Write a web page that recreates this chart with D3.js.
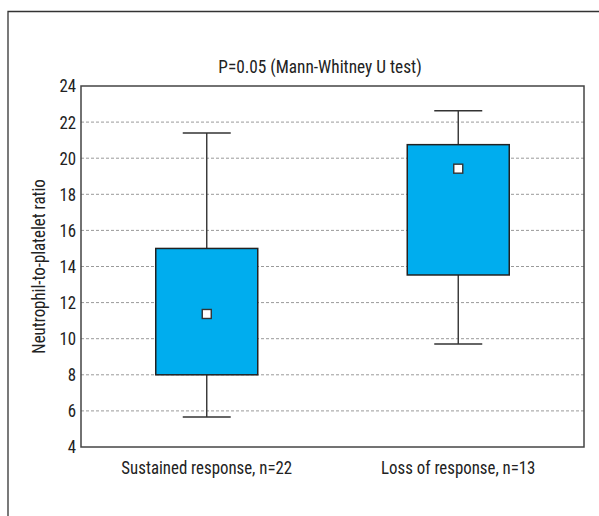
<!DOCTYPE html>
<html><head><meta charset="utf-8">
<script src="https://cdn.jsdelivr.net/npm/d3@7"></script>
<style>
body{margin:0;background:#fff;}
text{font-family:"Liberation Sans Narrow","Roboto Condensed","DejaVu Sans Condensed",sans-serif;font-stretch:condensed;fill:#222;}
</style></head>
<body><svg id="c" width="599" height="516"></svg>
<script>
const categories = ["Sustained response, n=22", "Loss of response, n=13"];
const whiskerLow = [5.66, 9.71];
const q1 = [8.0, 13.53];
const q3 = [15.0, 20.75];
const whiskerHigh = [21.4, 22.63];
const means = [11.37, 19.42];
const yTicks = [4, 6, 8, 10, 12, 14, 16, 18, 20, 22, 24];
const title = "P=0.05 (Mann-Whitney U test)";
const yLabel = "Neutrophil-to-platelet ratio";

const FS = 18.5, CONDENSE = 0.91;
const svg = d3.select("#c");
const m = {l: 81, t: 86, r: 584, b: 447};
const x = d3.scaleBand().domain(categories).range([m.l, m.r]);
const y = d3.scaleLinear().domain([4, 24]).range([m.b, m.t]);

// outer frame (continues beyond canvas)
svg.append("path").attr("d", `M8,520 V11.5 H610`).attr("fill", "none").attr("stroke", "#333").attr("stroke-width", 1.3);

// gridlines
svg.append("g").selectAll("line").data(yTicks.filter(d => d > 4 && d < 24)).join("line")
  .attr("x1", m.l).attr("x2", m.r).attr("y1", d => y(d)).attr("y2", d => y(d))
  .attr("stroke", "#9a9a9a").attr("stroke-width", 1).attr("stroke-dasharray", "3,2");

// y axis
const yAxis = svg.append("g").attr("transform", `translate(${m.l},0)`)
  .call(d3.axisLeft(y).tickValues(yTicks).tickSize(0).tickPadding(5));
yAxis.select(".domain").remove();
yAxis.selectAll("text").attr("font-size", FS).style("font-family", null);

// x axis labels
const xAxis = svg.append("g").attr("transform", `translate(0,${m.b})`)
  .call(d3.axisBottom(x).tickSize(0).tickPadding(14));
xAxis.select(".domain").remove();
xAxis.selectAll("text").attr("font-size", FS).style("font-family", null);

// boxes
const bw = 102, cap = 48;
const g = svg.append("g");
categories.forEach((c, i) => {
  const cx = x(c) + x.bandwidth() / 2;
  g.append("line").attr("x1", cx).attr("x2", cx).attr("y1", y(whiskerHigh[i])).attr("y2", y(q3[i])).attr("stroke", "#333").attr("stroke-width", 1.4);
  g.append("line").attr("x1", cx).attr("x2", cx).attr("y1", y(q1[i])).attr("y2", y(whiskerLow[i])).attr("stroke", "#333").attr("stroke-width", 1.4);
  g.append("line").attr("x1", cx - cap / 2).attr("x2", cx + cap / 2).attr("y1", y(whiskerHigh[i])).attr("y2", y(whiskerHigh[i])).attr("stroke", "#333").attr("stroke-width", 1.4);
  g.append("line").attr("x1", cx - cap / 2).attr("x2", cx + cap / 2).attr("y1", y(whiskerLow[i])).attr("y2", y(whiskerLow[i])).attr("stroke", "#333").attr("stroke-width", 1.4);
  g.append("rect").attr("x", cx - bw / 2).attr("width", bw).attr("y", y(q3[i])).attr("height", y(q1[i]) - y(q3[i]))
    .attr("fill", "#00adee").attr("stroke", "#222").attr("stroke-width", 1.5);
  g.append("rect").attr("x", cx - 4.5).attr("y", y(means[i]) - 4.5).attr("width", 9).attr("height", 9)
    .attr("fill", "#fff").attr("stroke", "#333").attr("stroke-width", 1.4);
});

// plot border
svg.append("rect").attr("x", m.l).attr("y", m.t).attr("width", m.r - m.l).attr("height", m.b - m.t)
  .attr("fill", "none").attr("stroke", "#444").attr("stroke-width", 1.5);

// title
svg.append("text").attr("x", 320).attr("y", 73).attr("text-anchor", "middle").attr("font-size", FS + 0.5).text(title);

// y label
svg.append("text").attr("transform", `translate(45,${(m.t + m.b) / 2}) rotate(-90)`).attr("text-anchor", "middle").attr("font-size", FS).text(yLabel);

// condense all text horizontally (narrow typeface look)
svg.selectAll("text").each(function () {
  const L = this.getComputedTextLength();
  d3.select(this).attr("textLength", L * CONDENSE).attr("lengthAdjust", "spacingAndGlyphs");
});
</script></body></html>
